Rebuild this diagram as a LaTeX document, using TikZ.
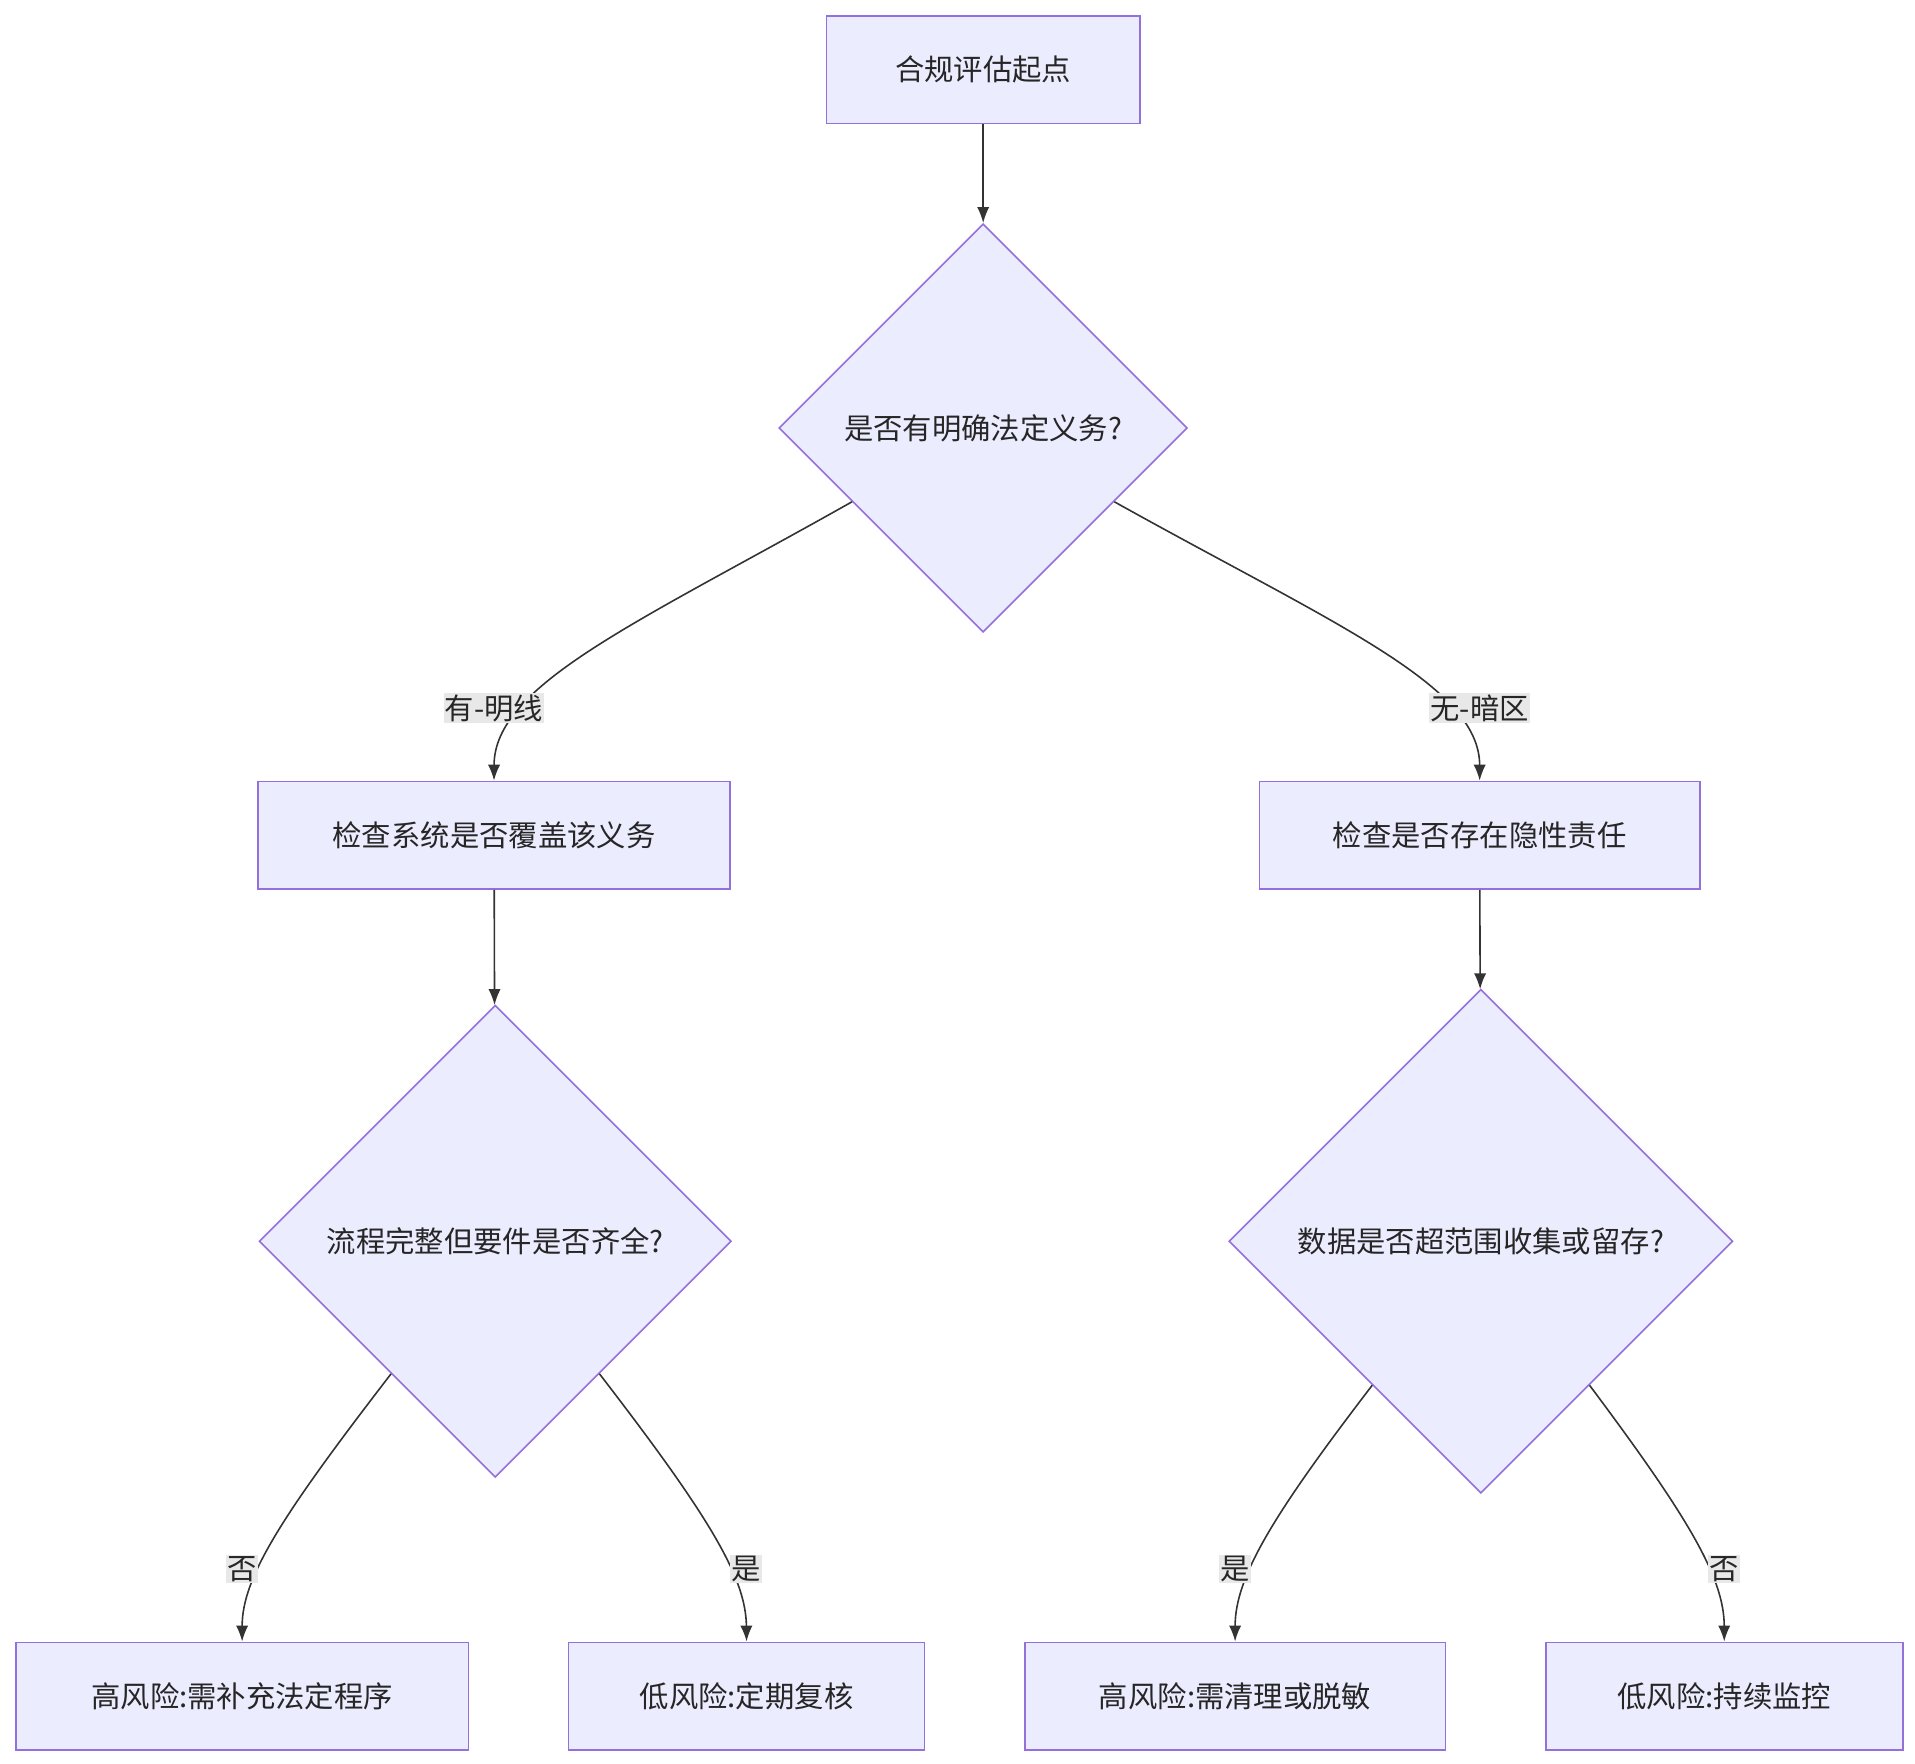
\documentclass[tikz,border=0pt]{standalone}
\usepackage{fontspec}
\setmainfont{Noto Sans CJK SC}
\usetikzlibrary{shapes.geometric,arrows.meta,calc}
\begin{document}
\begin{tikzpicture}[x=1pt,y=-1pt,
  box/.style={draw=mmline,fill=mmfill,line width=1.3pt,minimum height=88pt,inner sep=0pt,font=\fontsize{24}{28}\selectfont,text=black!85},
  dia/.style={draw=mmline,fill=mmfill,line width=1.3pt,diamond,inner sep=0pt,font=\fontsize{24}{28}\selectfont,text=black!85},
  conn/.style={draw=black!80,line width=1.3pt,-{Latex[length=13pt,width=10pt]}},
  lab/.style={fill=lbg,inner sep=1pt,font=\fontsize{24}{28}\selectfont,text=black!85}]
\definecolor{mmfill}{HTML}{ECECFF}
\definecolor{mmline}{HTML}{9370DB}
\definecolor{lbg}{HTML}{E8E8E8}
\useasboundingbox (0,0) rectangle (1566,1442);
\node[box,minimum width=256pt] (s) at (804,57) {合规评估起点};
\node[dia,minimum width=334pt,minimum height=334pt] (d1) at (804,350) {是否有明确法定义务?};
\node[box,minimum width=386pt] (a) at (404,683) {检查系统是否覆盖该义务};
\node[box,minimum width=360pt] (b) at (1210,683) {检查是否存在隐性责任};
\node[dia,minimum width=386pt,minimum height=386pt] (d2) at (405,1015) {流程完整但要件是否齐全?};
\node[dia,minimum width=412pt,minimum height=412pt] (d3) at (1211,1015) {数据是否超范围收集或留存?};
\node[box,minimum width=370pt] (l1) at (198,1387) {高风险:需补充法定程序};
\node[box,minimum width=291pt] (l2) at (610.5,1387) {低风险:定期复核};
\node[box,minimum width=344pt] (l3) at (1010,1387) {高风险:需清理或脱敏};
\node[box,minimum width=292pt] (l4) at (1410,1387) {低风险:持续监控};
\coordinate (p1) at ($(d1.west)!0.36!(d1.south)$);
\coordinate (p2) at ($(d1.east)!0.36!(d1.south)$);
\coordinate (p3) at ($(d2.west)!0.56!(d2.south)$);
\coordinate (p4) at ($(d2.east)!0.56!(d2.south)$);
\coordinate (p5) at ($(d3.west)!0.57!(d3.south)$);
\coordinate (p6) at ($(d3.east)!0.57!(d3.south)$);
\draw[conn] (s) -- (d1);
\draw[conn] (a) -- (d2);
\draw[conn] (b) -- (d3);
\draw[conn] (p1) .. controls (520,510) and (404,560) .. (a.north);
\draw[conn] (p2) .. controls (1090,510) and (1210,560) .. (b.north);
\draw[conn] (p3) .. controls (230,1240) and (198,1290) .. (l1.north);
\draw[conn] (p4) .. controls (580,1240) and (610,1290) .. (l2.north);
\draw[conn] (p5) .. controls (1040,1240) and (1010,1290) .. (l3.north);
\draw[conn] (p6) .. controls (1380,1240) and (1410,1290) .. (l4.north);
\node[lab] (t1) at (404,579) {有-明线};
\node[lab] (t2) at (1210,579) {无-暗区};
\node[lab] (t3) at (198,1283) {否};
\node[lab] (t4) at (610,1283) {是};
\node[lab] (t5) at (1010,1283) {是};
\node[lab] (t6) at (1410,1283) {否};
\end{tikzpicture}
\end{document}
